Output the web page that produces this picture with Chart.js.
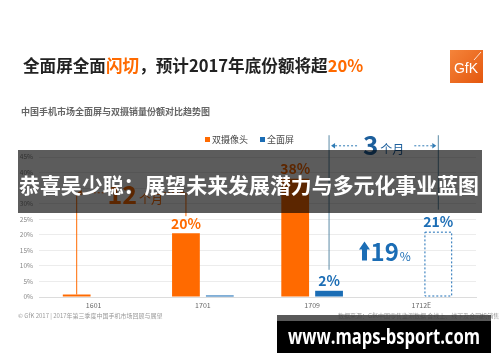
<!DOCTYPE html>
<html>
<head>
<meta charset="utf-8">
<script src="https://cdn.jsdelivr.net/npm/chart.js@4.4.0/dist/chart.umd.min.js"></script>
<style>
  html, body { margin: 0; padding: 0; background: #fff; overflow: hidden; }
  #wrap { width: 500px; height: 362px; position: relative; }
</style>
</head>
<body>
<div id="wrap"><canvas id="chart"></canvas></div>
<script>
// 데이터
const categories = ['1601', '1701', '1709', '1712E'];
const dualCamShare = [0.8, 20.5, 38, null];
const fullScreenShare = [0, 0.5, 2, 21];
const dualCamLabels = ['', '20%', '38%', ''];
const fullScreenLabels = ['', '', '2%', '21%'];
const seriesNames = ['双摄像头', '全面屏'];
const yMax = 45;
const yStep = 5;

const ORANGE = '#ff6a00';
const BLUE = '#1b6db5';
const LINE_BLUE = '#5b8aa6';
const CJK = '"Noto Sans CJK SC", "Noto Sans", sans-serif';

Chart.defaults.font.family = CJK;

// 색이 섞인 한 줄 텍스트
function drawSegments(ctx, segs, x, y) {
    segs.forEach(s => {
        ctx.fillStyle = s.c;
        ctx.fillText(s.t, x, y);
        x += ctx.measureText(s.t).width;
    });
}

function arrowHead(ctx, x, y, dir, size) {
    ctx.beginPath();
    ctx.moveTo(x, y);
    ctx.lineTo(x - dir * size, y - size * 0.7);
    ctx.lineTo(x - dir * size, y + size * 0.7);
    ctx.closePath();
    ctx.fill();
}

// 슬라이드 배경, 제목, 범례, 로고, 각주
const slidePlugin = {
    id: 'slide',
    beforeDraw(chart) {
        const ctx = chart.ctx;
        ctx.save();
        ctx.fillStyle = '#fff';
        ctx.fillRect(0, 0, chart.width, chart.height);

        ctx.textBaseline = 'middle';
        ctx.textAlign = 'left';
        ctx.font = 'bold 16.6px ' + CJK;
        drawSegments(ctx, [
            { t: '全面屏全面', c: '#222' },
            { t: '闪切', c: ORANGE },
            { t: '，预计2017年底份额将超', c: '#222' },
            { t: '20%', c: ORANGE }
        ], 23, 66);

        ctx.font = 'bold 9px ' + CJK;
        ctx.fillStyle = '#666';
        ctx.fillText('中国手机市场全面屏与双摄销量份额对比趋势图', 21, 112);

        // 범례
        ctx.font = '9px ' + CJK;
        ctx.fillStyle = ORANGE;
        ctx.fillRect(205, 137, 5, 5);
        ctx.fillStyle = '#444';
        ctx.fillText(seriesNames[0], 212, 140);
        ctx.fillStyle = BLUE;
        ctx.fillRect(260, 137, 5, 5);
        ctx.fillStyle = '#444';
        ctx.fillText(seriesNames[1], 267, 140);

        // GfK 로고
        const g = ctx.createLinearGradient(450, 50, 483, 83);
        g.addColorStop(0, '#f5843a');
        g.addColorStop(1, '#e4570e');
        ctx.fillStyle = g;
        ctx.fillRect(450, 50, 33, 33);
        ctx.fillStyle = '#fff';
        ctx.font = '14px "Liberation Sans", sans-serif';
        ctx.textAlign = 'center';
        ctx.fillText('GfK', 466, 69);
        ctx.strokeStyle = '#fff';
        ctx.lineWidth = 0.8;
        ctx.beginPath();
        ctx.moveTo(474, 60);
        ctx.lineTo(481, 52);
        ctx.stroke();

        // 각주
        ctx.textAlign = 'left';
        ctx.font = '6px ' + CJK;
        ctx.fillStyle = '#9a9a9a';
        ctx.fillText('© GfK 2017 | 2017年第三季度中国手机市场回顾与展望', 18, 316);
        ctx.fillText('数据来源：GfK中国零售监测数据 含线上、线下及合同机销售', 338, 316);
        ctx.fillText('7', 480, 317);
        ctx.restore();
    },

    afterDatasetsDraw(chart) {
        const ctx = chart.ctx;
        const y = chart.scales.y;
        const m0 = chart.getDatasetMeta(0).data;
        const m1 = chart.getDatasetMeta(1).data;
        ctx.save();

        // 1712E 점선 막대
        const e = m1[3];
        ctx.strokeStyle = BLUE;
        ctx.lineWidth = 1;
        ctx.setLineDash([2, 2]);
        ctx.strokeRect(e.x - e.width / 2 + 0.5, e.y + 0.5, e.width - 1, e.base - e.y - 1);
        ctx.setLineDash([]);

        // 값 라벨
        ctx.textAlign = 'center';
        ctx.textBaseline = 'bottom';
        ctx.font = 'bold 14px ' + CJK;
        m0.forEach((b, i) => {
            if (!dualCamLabels[i]) return;
            ctx.fillStyle = ORANGE;
            ctx.fillText(dualCamLabels[i], b.x, b.y - 3);
        });
        m1.forEach((b, i) => {
            if (!fullScreenLabels[i]) return;
            ctx.fillStyle = BLUE;
            ctx.fillText(fullScreenLabels[i], b.x, b.y - 3);
        });

        // 12个月 괄호
        const ya = y.getPixelForValue(33.5);
        const xa = m0[0].x, xb = m0[1].x;
        ctx.strokeStyle = ORANGE;
        ctx.fillStyle = ORANGE;
        ctx.lineWidth = 1;
        ctx.beginPath();
        ctx.moveTo(xa, m0[0].y);
        ctx.lineTo(xa, ya);
        ctx.moveTo(xb, ya);
        ctx.lineTo(xb, m0[1].y - 17);
        ctx.stroke();
        ctx.setLineDash([2, 2]);
        ctx.beginPath();
        ctx.moveTo(xa + 5, ya);
        ctx.lineTo(xa + 27, ya);
        ctx.moveTo(xb - 22, ya);
        ctx.lineTo(xb - 4, ya);
        ctx.stroke();
        ctx.setLineDash([]);
        arrowHead(ctx, xa + 1, ya, -1, 4);
        arrowHead(ctx, xb - 1, ya, 1, 4);
        ctx.textBaseline = 'alphabetic';
        ctx.textAlign = 'left';
        const cx12 = (xa + xb) / 2;
        ctx.font = 'bold 25px ' + CJK;
        const w12 = ctx.measureText('12').width;
        ctx.font = '12px ' + CJK;
        const wm = ctx.measureText('个月').width;
        let sx = cx12 - (w12 + wm + 2) / 2 + 4;
        ctx.font = 'bold 25px ' + CJK;
        ctx.fillText('12', sx, ya + 11);
        ctx.font = '12px ' + CJK;
        ctx.fillText('个月', sx + w12 + 2, ya + 11);

        // 3个月 괄호
        const yt = y.getPixelForValue(52);
        const ys = y.getPixelForValue(48.6);
        const xc = m1[2].x, xd = m1[3].x;
        ctx.strokeStyle = LINE_BLUE;
        ctx.beginPath();
        ctx.moveTo(xc, yt);
        ctx.lineTo(xc, m1[2].y - 21);
        ctx.moveTo(xd, yt);
        ctx.lineTo(xd, m1[3].y - 22);
        ctx.stroke();
        ctx.strokeStyle = '#2f7bb5';
        ctx.fillStyle = '#2f7bb5';
        ctx.setLineDash([2, 2]);
        ctx.beginPath();
        ctx.moveTo(xc + 6, ys);
        ctx.lineTo(xc + 28, ys);
        ctx.moveTo(xd - 24, ys);
        ctx.lineTo(xd - 5, ys);
        ctx.stroke();
        ctx.setLineDash([]);
        arrowHead(ctx, xc + 2, ys, -1, 4);
        arrowHead(ctx, xd - 2, ys, 1, 4);
        const cx3 = (xc + xd) / 2;
        ctx.fillStyle = '#1d5f9c';
        ctx.font = 'bold 26px ' + CJK;
        const w3 = ctx.measureText('3').width;
        sx = cx3 - (w3 + wm + 2) / 2;
        ctx.fillText('3', sx, ys + 9);
        ctx.font = '12px ' + CJK;
        ctx.fillText('个月', sx + w3 + 2, ys + 8);

        // ↑19%
        const yc = y.getPixelForValue(14.6);
        ctx.font = 'bold 24px ' + CJK;
        const w19 = ctx.measureText('19').width;
        ctx.font = '12px ' + CJK;
        const wp = ctx.measureText('%').width;
        const total = 11 + w19 + wp;
        let ax = cx3 - total / 2 + 1;
        ctx.fillStyle = BLUE;
        ctx.beginPath();
        ctx.moveTo(ax + 5, yc - 10);
        ctx.lineTo(ax + 10.5, yc - 2);
        ctx.lineTo(ax + 7.5, yc - 2);
        ctx.lineTo(ax + 7.5, yc + 9);
        ctx.lineTo(ax + 2.5, yc + 9);
        ctx.lineTo(ax + 2.5, yc - 2);
        ctx.lineTo(ax - 0.5, yc - 2);
        ctx.closePath();
        ctx.fill();
        ctx.font = 'bold 24px ' + CJK;
        ctx.fillText('19', ax + 11, yc + 9);
        ctx.font = '12px ' + CJK;
        ctx.fillText('%', ax + 12 + w19, yc + 9);
        ctx.restore();
    },

    // 가로 배너와 워터마크
    afterDraw(chart) {
        const ctx = chart.ctx;
        ctx.save();
        ctx.fillStyle = 'rgba(0,0,0,0.64)';
        ctx.fillRect(18, 150, 464, 63);
        ctx.fillStyle = '#fff';
        ctx.textAlign = 'center';
        ctx.textBaseline = 'middle';
        ctx.font = 'bold 21px ' + CJK;
        ctx.fillText('恭喜吴少聪：展望未来发展潜力与多元化事业蓝图', 249, 185, 460);

        ctx.fillStyle = 'rgba(60,60,60,0.85)';
        ctx.fillRect(277, 315, 214, 6);
        ctx.fillStyle = '#000';
        ctx.fillRect(277, 321, 214, 32);
        ctx.fillStyle = '#fff';
        ctx.font = 'bold 22px "Open Sans", sans-serif';
        ctx.fillText('www.maps-bsport.com', 384, 338, 192);
        ctx.restore();
    }
};

new Chart(document.getElementById('chart'), {
    type: 'bar',
    data: {
        labels: categories,
        datasets: [
            { label: seriesNames[0], data: dualCamShare, backgroundColor: ORANGE },
            {
                label: seriesNames[1],
                data: fullScreenShare,
                backgroundColor: fullScreenShare.map((v, i) => i === 3 ? 'rgba(0,0,0,0)' : BLUE)
            }
        ]
    },
    options: {
        responsive: true,
        maintainAspectRatio: false,
        animation: false,
        categoryPercentage: 0.62,
        barPercentage: 0.82,
        layout: { padding: { left: 0, right: 24, top: 157, bottom: 45 } },
        plugins: { legend: { display: false }, tooltip: { enabled: false } },
        scales: {
            x: {
                grid: { display: false, drawTicks: false },
                border: { display: true, color: '#dcdcdc' },
                ticks: { color: '#666', font: { size: 7 }, padding: 4 },
                afterFit(scale) { scale.height = 20; }
            },
            y: {
                min: 0,
                max: yMax,
                grid: { color: '#ececec', drawTicks: false },
                border: { display: false },
                ticks: {
                    stepSize: yStep,
                    color: '#888',
                    font: { size: 6.5 },
                    padding: 6,
                    callback: v => v + '%'
                },
                afterFit(scale) { scale.width = 39; }
            }
        }
    },
    plugins: [slidePlugin]
});
</script>
</body>
</html>
